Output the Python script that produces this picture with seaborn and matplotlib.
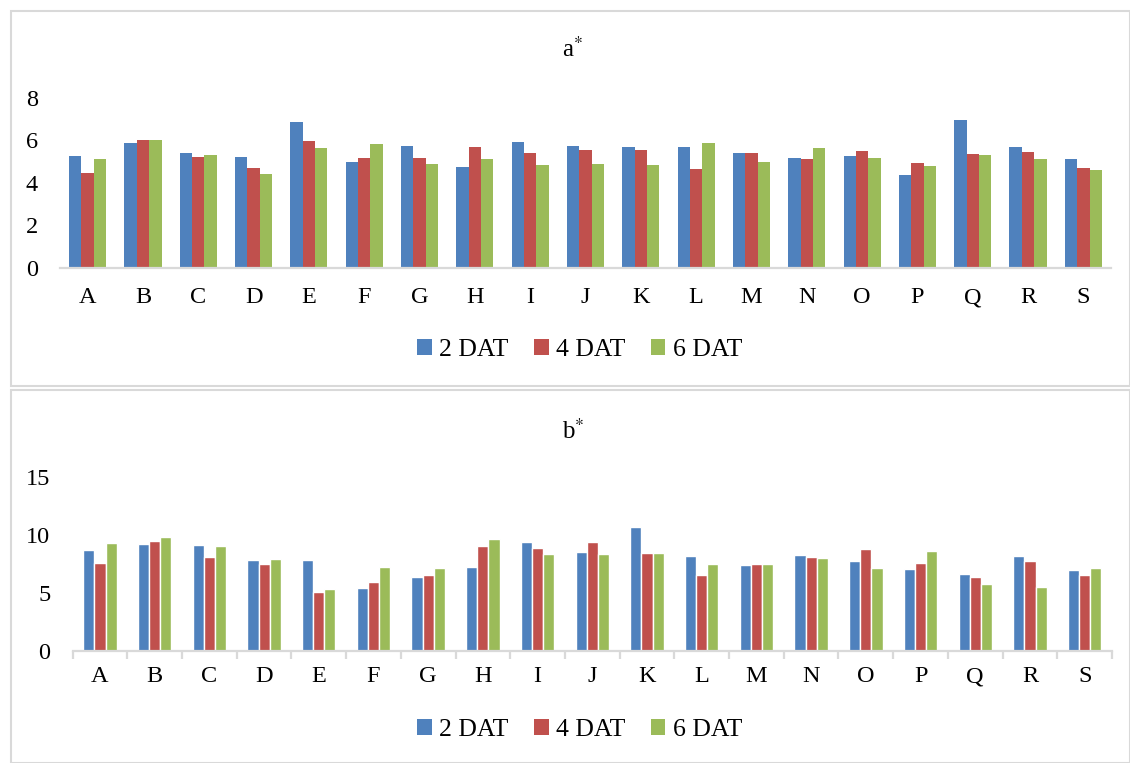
import numpy as np
import pandas as pd
import seaborn as sns
import matplotlib.pyplot as plt
from matplotlib.patches import Rectangle

# categories and series
cats = list("ABCDEFGHIJKLMNOPQRS")
series = ["2 DAT", "4 DAT", "6 DAT"]
colors = ["#4F81BD", "#C0504D", "#9BBB59"]

# a* values
a_2dat = [5.29, 5.90, 5.43, 5.24, 6.87, 4.99, 5.74, 4.77, 5.95, 5.74, 5.69, 5.69, 5.40, 5.19, 5.27, 4.39, 6.98, 5.68, 5.11]
a_4dat = [4.49, 6.04, 5.24, 4.71, 5.98, 5.19, 5.19, 5.68, 5.43, 5.57, 5.54, 4.66, 5.40, 5.11, 5.51, 4.93, 5.38, 5.46, 4.69]
a_6dat = [5.15, 6.04, 5.33, 4.42, 5.65, 5.85, 4.89, 5.11, 4.86, 4.91, 4.85, 5.90, 4.97, 5.65, 5.16, 4.82, 5.33, 5.13, 4.63]

# b* values
b_2dat = [8.68, 9.24, 9.18, 7.87, 7.81, 5.47, 6.35, 7.22, 9.42, 8.51, 10.70, 8.16, 7.40, 8.30, 7.72, 7.05, 6.61, 8.16, 7.02]
b_4dat = [7.57, 9.44, 8.13, 7.46, 5.09, 5.91, 6.58, 9.01, 8.92, 9.39, 8.45, 6.58, 7.46, 8.10, 8.83, 7.60, 6.35, 7.72, 6.58]
b_6dat = [9.30, 9.80, 9.09, 7.92, 5.38, 7.22, 7.19, 9.65, 8.39, 8.39, 8.45, 7.46, 7.54, 7.98, 7.19, 8.60, 5.79, 5.56, 7.13]

plt.rcParams["font.family"] = ["Liberation Serif", "DejaVu Serif"]
plt.rcParams["mathtext.fontset"] = "stix"

W, H = 1130, 763
fig = plt.figure(figsize=(W / 100, H / 100), dpi=100)

# excel-style chart frames
for (y0, y1) in [(11, 386), (390, 763)]:
    fig.patches.append(Rectangle((11 / W, 1 - y1 / H), (W - 11) / W, (y1 - y0) / H,
                                 transform=fig.transFigure, fill=False,
                                 edgecolor="#D9D9D9", linewidth=1.5))


def make_df(s1, s2, s3):
    df = pd.DataFrame({"cat": cats, series[0]: s1, series[1]: s2, series[2]: s3})
    return df.melt(id_vars="cat", var_name="series", value_name="val")


def panel(rect, df, ymax, ystep, width, edge, ticks_between):
    ax = fig.add_axes(rect)
    sns.barplot(data=df, x="cat", y="val", hue="series", palette=colors,
                saturation=1, width=width, errorbar=None, ax=ax, legend=False,
                edgecolor=edge, linewidth=1 if edge else 0)
    ax.set_xlim(-0.5, len(cats) - 0.5)
    ax.set_ylim(0, ymax)
    ax.set_yticks(np.arange(0, ymax + 0.1, ystep))
    ax.set_xlabel("")
    ax.set_ylabel("")
    for s in ["top", "right", "left"]:
        ax.spines[s].set_visible(False)
    ax.spines["bottom"].set_color("#D9D9D9")
    ax.spines["bottom"].set_linewidth(1.6)
    ax.tick_params(axis="y", length=0, pad=16, labelsize=17.5, labelcolor="#000000")
    if ticks_between:
        ax.set_xticks(np.arange(-0.5, len(cats)), minor=True)
        ax.tick_params(axis="x", which="minor", length=6, width=1.6, color="#D9D9D9")
        ax.tick_params(axis="x", which="major", length=0, pad=11, labelsize=17.5)
    else:
        ax.tick_params(axis="x", length=0, pad=14, labelsize=17.5)
    return ax


ax1 = panel([60 / W, 1 - 268 / H, 1051 / W, 170 / H],
            make_df(a_2dat, a_4dat, a_6dat), 8, 2, 0.67, None, False)
ax2 = panel([72.6 / W, 1 - 651 / H, 1039.4 / W, 174 / H],
            make_df(b_2dat, b_4dat, b_6dat), 15, 5, 0.61, "white", True)

fig.text(573 / W, 1 - 49 / H, "a$^{*}$", ha="center", va="center", fontsize=18)
fig.text(573 / W, 1 - 431 / H, "b$^{*}$", ha="center", va="center", fontsize=18)

handles = [Rectangle((0, 0), 1, 1, facecolor=c) for c in colors]
for yc in [350, 730]:
    fig.legend(handles, series, loc="center", bbox_to_anchor=(580 / W, 1 - yc / H),
               ncol=3, frameon=False, fontsize=18.5, handlelength=0.55,
               handleheight=0.55, handletextpad=0.3, columnspacing=1.0)

fig.savefig("out.png", dpi=100)
